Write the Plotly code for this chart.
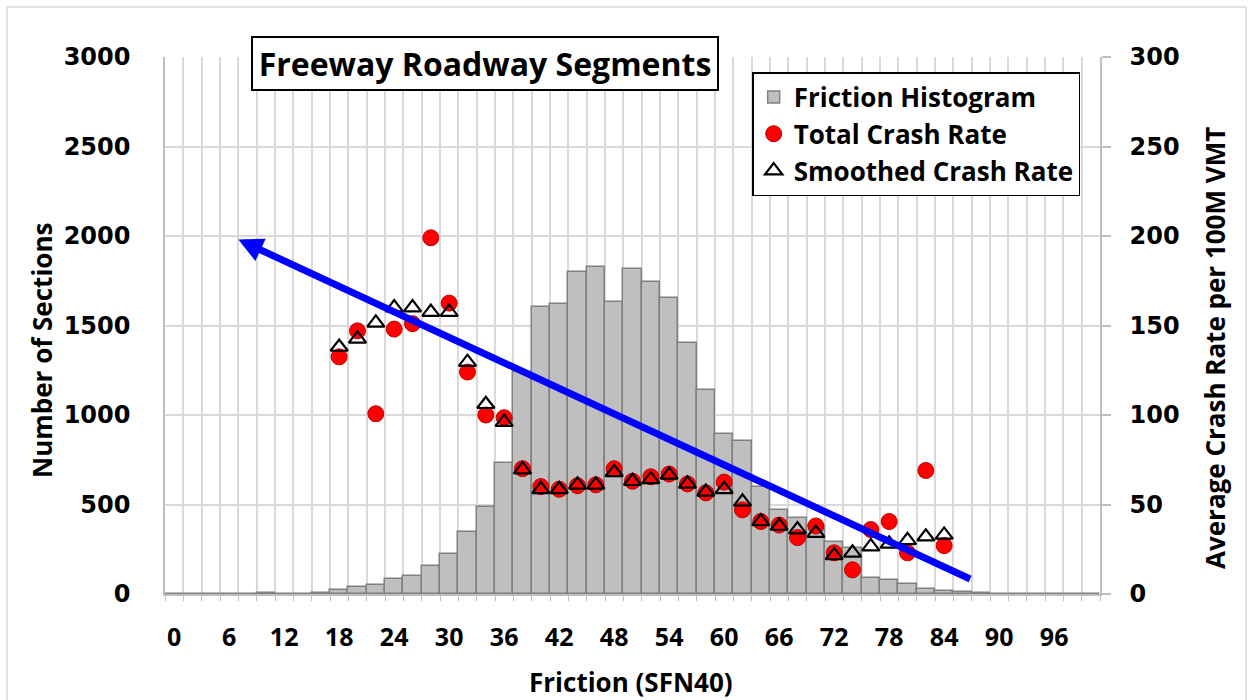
import plotly.graph_objects as go

# ---- data ----
friction_bins = list(range(0, 101, 2))
section_counts = [0, 0, 0, 0, 0, 5, 0, 0, 8, 22, 39, 52, 84, 98, 154, 225, 346, 485, 734,
                  1242, 1605, 1620, 1797, 1826, 1633, 1815, 1741, 1655, 1405, 1141, 895,
                  854, 600, 470, 425, 381, 293, 256, 88, 79, 56, 28, 16, 10, 5,
                  0, 0, 0, 0, 0, 0]
rate_friction = list(range(18, 85, 2))
total_crash_rate = [132.5, 147, 100.7, 148, 151, 199, 162.5, 124, 100, 98.5, 70, 60, 58.5,
                    60.5, 61, 70, 63, 65.5, 67, 61.5, 56.5, 62.5, 47, 40.5, 38.5, 31.5, 38,
                    23, 13.5, 36, 40.5, 23, 69, 27]
smoothed_crash_rate = [138, 142.5, 151.5, 160, 160, 157.5, 157.5, 129.5, 106, 96, 69.5, 58.5,
                       58.5, 61, 61, 68, 63, 64, 66.5, 61.5, 57, 58.5, 51.5, 40.5, 38, 36, 34,
                       21.5, 23, 26.5, 28, 30, 32, 33]
x_tick_labels = list(range(0, 97, 6))
trend_tail = (87, 8)     # (friction, crash rate)
trend_tip = (7, 198)

LABEL_FONT = "Open Sans"
NUM_FONT = "DejaVu Sans"

fig = go.Figure()
fig.add_trace(go.Bar(
    x=friction_bins, y=section_counts, width=2, name="Friction Histogram",
    marker=dict(color="#BFBFBF", line=dict(color="#808080", width=1.5)),
    yaxis="y"))
fig.add_trace(go.Scatter(
    x=rate_friction, y=total_crash_rate, mode="markers", name="Total Crash Rate",
    marker=dict(symbol="circle", size=16, color="#FF0000", line=dict(color="#C00000", width=1)),
    yaxis="y2"))
fig.add_trace(go.Scatter(
    x=rate_friction, y=smoothed_crash_rate, mode="markers", name="Smoothed Crash Rate",
    marker=dict(symbol="triangle-up-open", size=15, color="#000000", line=dict(color="#000000", width=2.2)),
    yaxis="y2"))

fig.update_layout(
    width=1253, height=700,
    margin=dict(l=165, r=153, t=57, b=106, autoexpand=False),
    paper_bgcolor="white", plot_bgcolor="white",
    bargap=0,
    showlegend=True,
    legend=dict(x=0.628, y=0.972, xanchor="left", yanchor="top",
                bgcolor="white", bordercolor="black", borderwidth=1.5,
                font=dict(family=LABEL_FONT, size=26, color="black", weight="bold"),
                itemwidth=30, tracegroupgap=0),
    xaxis=dict(range=[-1, 101], tickmode="array", tickvals=x_tick_labels,
               ticktext=[str(v) for v in x_tick_labels], automargin=False,
               showgrid=False, zeroline=False,
               showline=True, linecolor="#BFBFBF", linewidth=1.5,
               ticks="", ticklabelstandoff=20,
               tickfont=dict(family=LABEL_FONT, size=25, color="black", weight="bold"),
               minor=dict(tick0=1, dtick=2, showgrid=True, gridcolor="#D9D9D9", gridwidth=1.5,
                          ticks="outside", ticklen=5, tickcolor="#BFBFBF")),
    yaxis=dict(range=[0, 3000], dtick=500, showgrid=True, gridcolor="#D9D9D9", gridwidth=1.5,
               zeroline=False, showline=True, linecolor="#BFBFBF", linewidth=1.5,
               ticks="", ticklabelstandoff=28, automargin=False,
               tickfont=dict(family=NUM_FONT, size=24, color="black", weight="bold")),
    yaxis2=dict(range=[0, 300], dtick=50, overlaying="y", side="right", showgrid=False,
                zeroline=False, showline=True, linecolor="#BFBFBF", linewidth=1.5,
                ticks="outside", ticklen=9, tickcolor="#BFBFBF", tickwidth=1.5,
                ticklabelstandoff=14, automargin=False,
                tickfont=dict(family=NUM_FONT, size=24, color="black", weight="bold")),
)

# axis titles
fig.add_annotation(text="Number of Sections", xref="paper", yref="paper",
                   x=(42 - 165) / 935, y=(594 - 350) / 537, textangle=-90, showarrow=False,
                   xanchor="center", yanchor="middle",
                   font=dict(family=LABEL_FONT, size=26, color="black", weight="bold"))
fig.add_annotation(text="Average Crash Rate per 100M VMT", xref="paper", yref="paper",
                   x=(1215 - 165) / 935, y=(594 - 348) / 537, textangle=-90, showarrow=False,
                   xanchor="center", yanchor="middle",
                   font=dict(family=LABEL_FONT, size=26, color="black", weight="bold"))
fig.add_annotation(text="Friction (SFN40)", xref="paper", yref="paper",
                   x=(631 - 165) / 935, y=(594 - 682) / 537, showarrow=False,
                   xanchor="center", yanchor="middle",
                   font=dict(family=LABEL_FONT, size=26, color="black", weight="bold"))

# title box
fig.add_annotation(text="Freeway Roadway Segments", xref="paper", yref="paper",
                   x=(485 - 165) / 935, y=(594 - 63.5) / 537, showarrow=False,
                   xanchor="center", yanchor="middle",
                   width=460, height=47, borderpad=2,
                   bgcolor="white", bordercolor="black", borderwidth=2,
                   font=dict(family=LABEL_FONT, size=32, color="black", weight="bold"))

# trend arrow
fig.add_annotation(text="", x=trend_tip[0], y=trend_tip[1], xref="x", yref="y2",
                   ax=trend_tail[0], ay=trend_tail[1], axref="x", ayref="y2",
                   showarrow=True, arrowhead=2, arrowsize=0.7, arrowwidth=7,
                   arrowcolor="#0000FF")

# chart area border
fig.add_shape(type="rect", xref="paper", yref="paper",
              x0=(7 - 165) / 935, x1=(1246 - 165) / 935,
              y0=(594 - 712) / 537, y1=(594 - 7) / 537,
              line=dict(color="#D9D9D9", width=1.5), fillcolor="rgba(0,0,0,0)", layer="below")

fig.write_html("out.html", config={"displayModeBar": False},
               post_script="document.body.style.margin='0';document.body.style.overflow='hidden';")
